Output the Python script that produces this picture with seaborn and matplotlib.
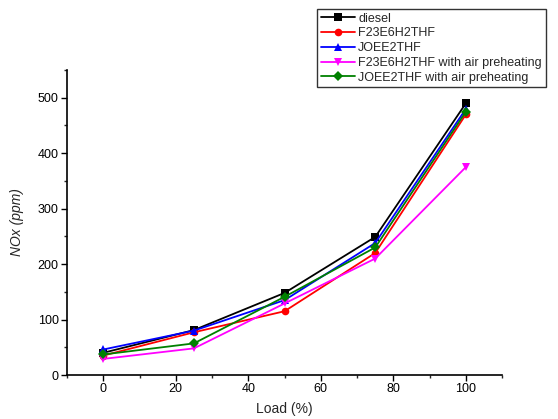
import pandas as pd
import matplotlib.pyplot as plt
import seaborn as sns
from matplotlib.ticker import MultipleLocator

# Daten
load = [0, 25, 50, 75, 100]
diesel = [40, 81, 148, 249, 490]
f23 = [35, 77, 115, 220, 470]
joee = [46, 80, 135, 238, 480]
f23_air = [29, 48, 129, 210, 375]
joee_air = [37, 57, 141, 230, 475]

series_names = ['diesel', 'F23E6H2THF', 'JOEE2THF',
                'F23E6H2THF with air preheating', 'JOEE2THF with air preheating']
series_vals = [diesel, f23, joee, f23_air, joee_air]

rows = []
for name, vals in zip(series_names, series_vals):
    for x, y in zip(load, vals):
        rows.append({'Load': x, 'NOx': y, 'Fuel': name})
df = pd.DataFrame(rows)

palette = {
    'diesel': '#000000',
    'F23E6H2THF': '#ff0000',
    'JOEE2THF': '#0000ff',
    'F23E6H2THF with air preheating': '#ff00ff',
    'JOEE2THF with air preheating': '#008000',
}
markers = {
    'diesel': 's',
    'F23E6H2THF': 'o',
    'JOEE2THF': '^',
    'F23E6H2THF with air preheating': 'v',
    'JOEE2THF with air preheating': 'D',
}

sns.set_style("ticks")
plt.rcParams['font.family'] = ['Liberation Sans', 'DejaVu Sans']

fig = plt.figure(figsize=(5.58, 4.19), dpi=100)
ax = fig.add_axes([0.120, 0.105, 0.780, 0.728])

sns.lineplot(data=df, x='Load', y='NOx', hue='Fuel', style='Fuel',
             hue_order=series_names, style_order=series_names,
             palette=palette, markers=markers, dashes=False,
             markersize=5.5, markeredgewidth=0, linewidth=1.3, ax=ax, legend=False)

ax.set_xlim(-10, 110)
ax.set_ylim(0, 550)
ax.xaxis.set_major_locator(MultipleLocator(20))
ax.xaxis.set_minor_locator(MultipleLocator(10))
ax.yaxis.set_major_locator(MultipleLocator(100))
ax.yaxis.set_minor_locator(MultipleLocator(50))
ax.spines['top'].set_visible(False)
ax.spines['right'].set_visible(False)
for s in ['left', 'bottom']:
    ax.spines[s].set_linewidth(1.2)
    ax.spines[s].set_color('black')
ax.tick_params(which='major', length=4, width=1, labelsize=9, colors='black', pad=2)
ax.tick_params(which='minor', length=2.5, width=1)
ax.set_xlabel('Load (%)', fontsize=10, labelpad=5)
ax.set_ylabel('NOx (ppm)', fontsize=10, style='italic', labelpad=10)

handles = [plt.Line2D([], [], color=palette[n], marker=markers[n], markersize=5.5,
                      markeredgewidth=0, linewidth=1.3) for n in series_names]
leg = fig.legend(handles, series_names, loc='upper left',
                 bbox_to_anchor=(317 / 558, 1 - 9 / 419), fontsize=9,
                 frameon=True, fancybox=False, edgecolor='black',
                 borderpad=0.3, labelspacing=0.22, handlelength=2.7,
                 handletextpad=0.3, borderaxespad=0)
leg.get_frame().set_linewidth(1.0)

plt.savefig('out.png', dpi=100)
plt.close()
